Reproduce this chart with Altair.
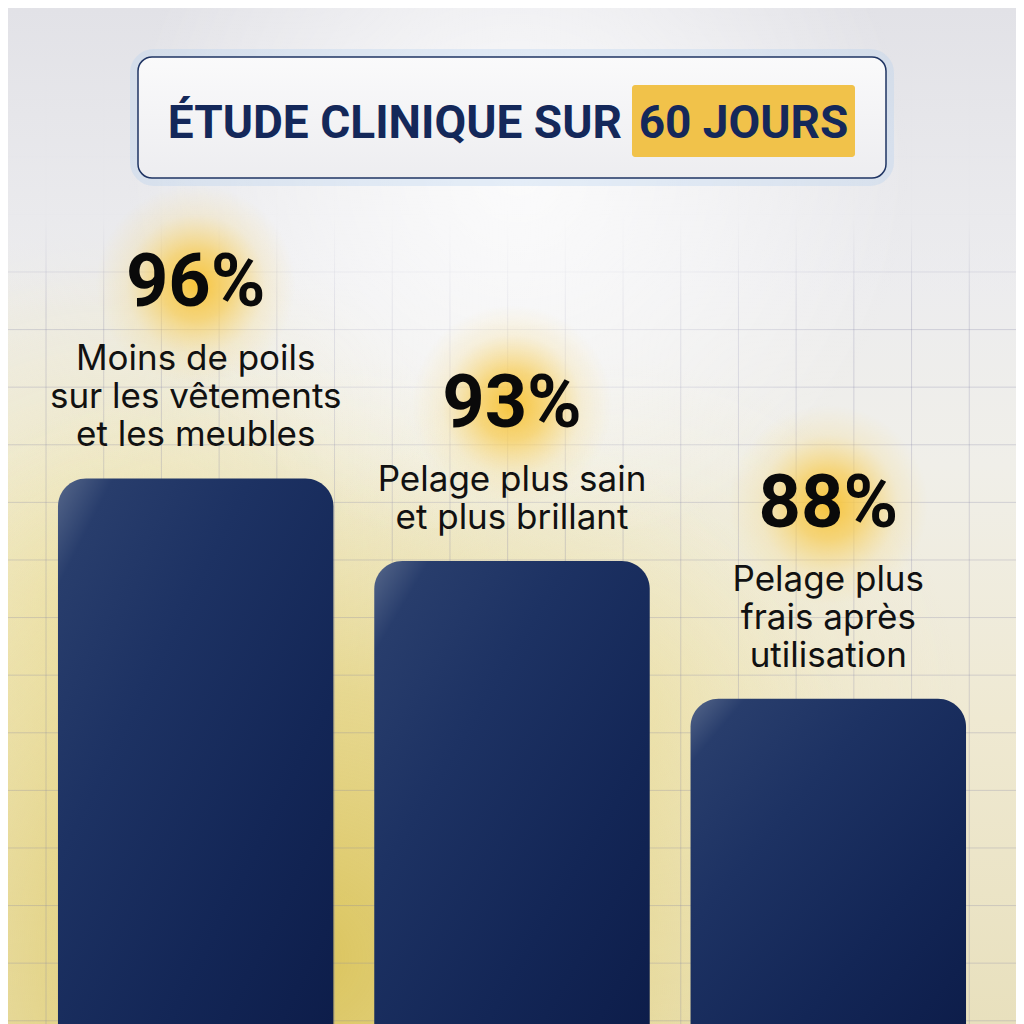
import altair as alt
import pandas as pd

# ---------------- data ----------------
PERCENTS = [96, 93, 88]
LABELS = [
    ["Moins de poils", "sur les vêtements", "et les meubles"],
    ["Pelage plus sain", "et plus brillant"],
    ["Pelage plus", "frais après", "utilisation"],
]
TITLE_MAIN = "ÉTUDE CLINIQUE SUR"
TITLE_HIGHLIGHT = "60 JOURS"
GRID_X_INDEX = list(range(17))
GRID_Y_INDEX = list(range(-4, 14))

# ---------------- layout constants ----------------
W, H = 1008, 1016
Y_MIN, Y_MAX = 76.2, 113.07
LABEL_GAP = 32
LINE_H = 38
PCT_GAP = 64

NARROW = "Roboto, 'DejaVu Sans Condensed', sans-serif"
BODY = "Inter, 'Open Sans', Lato, sans-serif"
NAVY = "#14285a"

cats = [" / ".join(l) for l in LABELS]
df = pd.DataFrame({
    "cat": cats,
    "value": PERCENTS,
    "label": ["\n".join(l) for l in LABELS],
    "lines": [len(l) for l in LABELS],
    "pct": [f"{v}%" for v in PERCENTS],
})
one = pd.DataFrame({"k": [0]})

xscale = alt.Scale(type="band", domain=cats, paddingInner=0.129, paddingOuter=0.158)
X = alt.X("cat:N", scale=xscale, axis=None, sort=None)
Y = alt.Y("value:Q", scale=alt.Scale(domain=[Y_MIN, Y_MAX], zero=False, nice=False), axis=None)


def stops(pairs):
    return [alt.GradientStop(color=c, offset=o) for o, c in pairs]


def radial(pairs):
    return alt.RadialGradient(gradient="radial", x1=0.5, y1=0.5, r1=0, x2=0.5, y2=0.5, r2=0.5,
                              stops=stops(pairs))


def full_rect(grad, x0=0, x1=W, y0=0, y1=H):
    return alt.Chart(one).mark_rect(color=grad).encode(
        x=alt.value(x0), x2=alt.value(x1), y=alt.value(y0), y2=alt.value(y1)
    )

# ---------------- background ----------------
base = full_rect(alt.LinearGradient(
    gradient="linear", x1=0, y1=0, x2=0, y2=1,
    stops=stops([(0, "#dfdfe4"), (0.25, "#ececef"), (0.45, "#f0efe9"), (0.7, "#efe9d2"), (1, "#e8e0bd")])))

yellow_glow = full_rect(radial([(0, "rgba(218,195,88,0.95)"), (0.45, "rgba(226,207,115,0.65)"),
                                (1, "rgba(240,230,180,0)")]),
                        x0=-300, x1=900, y0=350, y1=1550)

yellow_glow2 = full_rect(radial([(0, "rgba(236,222,150,0.75)"), (1, "rgba(240,232,190,0)")]),
                         x0=-300, x1=500, y0=200, y1=1000)

yellow_glow3 = full_rect(radial([(0, "rgba(236,224,160,0.55)"), (1, "rgba(240,232,190,0)")]),
                         x0=250, x1=950, y0=350, y1=1050)

grid_v = alt.Chart(pd.DataFrame({"gx": GRID_X_INDEX})).mark_rule(
    color="rgba(130,130,165,0.28)", strokeWidth=1
).encode(x=alt.X("gx:Q", scale=alt.Scale(domain=[-0.659, 16.81], nice=False, zero=False), axis=None))

grid_h = alt.Chart(pd.DataFrame({"gy": GRID_Y_INDEX})).mark_rule(
    color="rgba(130,130,165,0.28)", strokeWidth=1
).encode(y=alt.Y("gy:Q", scale=alt.Scale(domain=[-4.583, 13.056], reverse=True, nice=False, zero=False), axis=None))

top_fade = full_rect(alt.LinearGradient(
    gradient="linear", x1=0, y1=0, x2=0, y2=1,
    stops=stops([(0, "rgba(226,226,231,1)"), (0.7, "rgba(234,234,237,0.95)"), (1, "rgba(236,236,238,0)")])),
    y0=0, y1=300)

white_glow = full_rect(radial([(0, "rgba(255,255,255,0.85)"), (0.5, "rgba(255,255,255,0.45)"),
                               (1, "rgba(255,255,255,0)")]),
                       x0=120, x1=900, y0=-200, y1=520)

# ---------------- bars ----------------
bar_grad = alt.LinearGradient(
    gradient="linear", x1=0, y1=0, x2=1, y2=1,
    stops=stops([(0, "#56678a"), (0.1, "#283d6c"), (0.35, "#1d3263"), (0.7, "#132656"), (1, "#0d1d4a")]))
bars = alt.Chart(df).mark_bar(
    cornerRadiusTopLeft=28, cornerRadiusTopRight=28, color=bar_grad
).encode(x=X, y=Y, y2=alt.datum(Y_MIN))

# ---------------- texts (offset by number of label lines) ----------------
glow_layers, label_layers, pct_layers = [], [], []
for n in sorted(set(df["lines"])):
    label_dy = -LABEL_GAP - (n - 1) * LINE_H
    pct_dy = label_dy - PCT_GAP
    sub = alt.Chart(df).transform_filter(f"datum.lines == {n}")
    glow_layers.append(sub.mark_circle(
        size=40000, opacity=1, yOffset=pct_dy - 22,
        color=radial([(0, "rgba(247,196,60,1)"), (0.35, "rgba(247,202,78,0.7)"),
                      (0.7, "rgba(247,212,110,0.2)"), (1, "rgba(247,215,120,0)")])
    ).encode(x=X, y=Y))
    label_layers.append(sub.mark_text(
        font=BODY, fontSize=35, lineHeight=LINE_H, baseline="alphabetic", align="center",
        dy=label_dy, lineBreak="\n", color="#111111"
    ).encode(x=X, y=Y, text="label:N"))
    pct_layers.append(sub.mark_text(
        font=NARROW, fontSize=74, fontWeight="bold", baseline="alphabetic", align="center",
        dy=pct_dy, color="#0a0a0a"
    ).encode(x=X, y=Y, text="pct:N"))

# ---------------- title box ----------------
box_glow = alt.Chart(one).mark_rect(
    cornerRadius=18, fill="rgba(0,0,0,0)", stroke="rgba(175,205,240,0.3)", strokeWidth=12
).encode(x=alt.value(128), x2=alt.value(880), y=alt.value(47), y2=alt.value(172))
box = alt.Chart(one).mark_rect(
    cornerRadius=14, stroke="#1f3463", strokeWidth=1.5,
    color=alt.LinearGradient(gradient="linear", x1=0, y1=0, x2=0, y2=1,
                             stops=stops([(0, "#fafafb"), (1, "#ededf0")]))
).encode(x=alt.value(130), x2=alt.value(878), y=alt.value(49), y2=alt.value(170))
hl = alt.Chart(one).mark_rect(cornerRadius=3, color="#f1c24a").encode(
    x=alt.value(624), x2=alt.value(847), y=alt.value(77), y2=alt.value(149))
t_main = alt.Chart(one).mark_text(
    font=NARROW, fontSize=46, fontWeight="bold", align="right", baseline="alphabetic", color=NAVY
).encode(x=alt.value(614), y=alt.value(130), text=alt.value(TITLE_MAIN))
t_hl = alt.Chart(one).mark_text(
    font=NARROW, fontSize=46, fontWeight="bold", align="center", baseline="alphabetic", color=NAVY
).encode(x=alt.value(735.5), y=alt.value(130), text=alt.value(TITLE_HIGHLIGHT))

chart = alt.layer(
    base, yellow_glow2, yellow_glow3, yellow_glow, grid_v, grid_h, top_fade, white_glow,
    *glow_layers, bars, *label_layers, *pct_layers, box_glow, box, hl, t_main, t_hl
).resolve_scale(x="independent", y="independent").properties(
    width=W, height=H, padding=0, autosize="none"
).configure_view(stroke=None)

chart.save("out.html", embed_options={"renderer": "svg", "actions": False})
